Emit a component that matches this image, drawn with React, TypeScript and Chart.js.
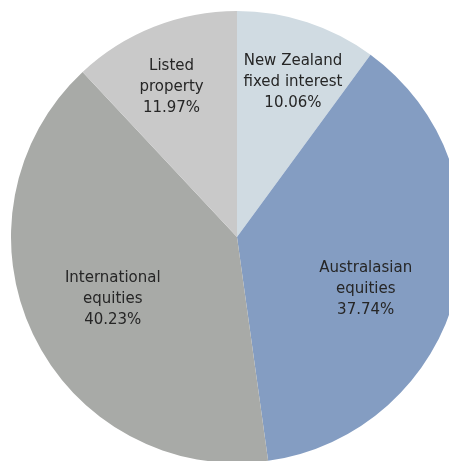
import React, { useEffect, useRef } from "react";
import { Chart, registerables } from "chart.js";

Chart.register(...registerables);

const categories: string[][] = [
  ["New Zealand", "fixed interest"],
  ["Australasian", "equities"],
  ["International", "equities"],
  ["Listed", "property"],
];
const values: number[] = [10.06, 37.74, 40.23, 11.97];
const percentLabels: string[] = ["10.06%", "37.74%", "40.23%", "11.97%"];
const colors: string[] = ["#D0DBE2", "#849DC2", "#A8AAA7", "#C9C9C9"];
const labelRadius: number[] = [0.73, 0.615, 0.615, 0.725];
const labelAngleShift: number[] = [0.03, 0.14, -0.02, -0.035];

const labelPlugin = {
  id: "sliceLabels",
  afterDatasetsDraw(chart: any) {
    const ctx = chart.ctx;
    const meta = chart.getDatasetMeta(0);
    ctx.save();
    ctx.font = '15px "DejaVu Sans", sans-serif';
    ctx.fillStyle = "#262626";
    ctx.textAlign = "center";
    ctx.textBaseline = "middle";
    meta.data.forEach((arc: any, i: number) => {
      const p = arc.getProps(["x", "y", "startAngle", "endAngle", "outerRadius"], true);
      const mid = (p.startAngle + p.endAngle) / 2 + labelAngleShift[i];
      const r = p.outerRadius * labelRadius[i];
      const cx = p.x + Math.cos(mid) * r;
      const cy = p.y + Math.sin(mid) * r;
      const lines = [...categories[i], percentLabels[i]];
      const lh = 21;
      lines.forEach((t, k) => {
        ctx.fillText(t, cx, cy + (k - (lines.length - 1) / 2) * lh);
      });
    });
    ctx.restore();
  },
};

export default function App() {
  const ref = useRef<HTMLCanvasElement | null>(null);
  useEffect(() => {
    if (!ref.current) return;
    const chart = new Chart(ref.current, {
      type: "pie",
      data: {
        labels: categories.map((c) => c.join(" ")),
        datasets: [
          {
            data: values,
            backgroundColor: colors,
            borderColor: "#ffffff",
            borderWidth: 0,
            hoverOffset: 0,
          },
        ],
      },
      options: {
        responsive: false,
        animation: false,
        layout: { padding: 0 },
        rotation: 0,
        plugins: {
          legend: { display: false },
          tooltip: { enabled: false },
        },
      },
      plugins: [labelPlugin],
    });
    return () => chart.destroy();
  }, []);
  return (
    <div
      style={{
        position: "fixed",
        left: 0,
        top: 0,
        width: 449,
        height: 461,
        overflow: "hidden",
        background: "#ffffff",
      }}
    >
      <canvas
        ref={ref}
        width={452}
        height={452}
        style={{ position: "absolute", left: 11, top: 11, width: 452, height: 452 }}
      />
    </div>
  );
}
